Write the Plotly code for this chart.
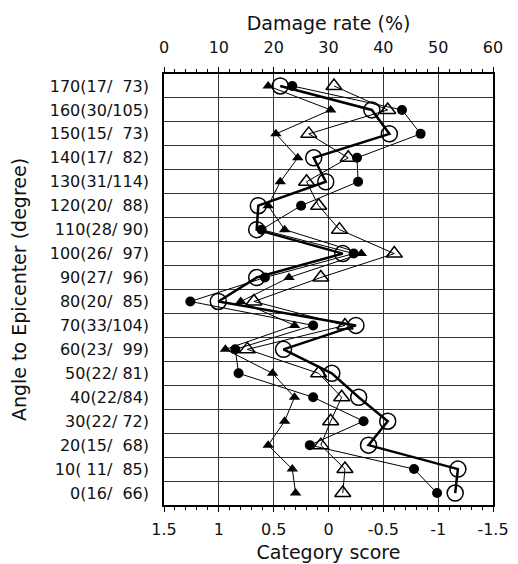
import plotly.graph_objects as go

NB = "\u00a0"
angles = [170, 160, 150, 140, 130, 120, 110, 100, 90, 80, 70, 60, 50, 40, 30, 20, 10, 0]
labels = [
    "170(17/" + NB*2 + "73)", "160(30/105)", "150(15/" + NB*2 + "73)", "140(17/" + NB*2 + "82)",
    "130(31/114)", "120(20/" + NB*2 + "88)", "110(28/" + NB + "90)", "100(26/" + NB*2 + "97)",
    "90(27/" + NB*2 + "96)", "80(20/" + NB*2 + "85)", "70(33/104)", "60(23/" + NB*2 + "99)",
    "50(22/" + NB + "81)", "40(22/84)", "30(22/" + NB + "72)", "20(15/" + NB*2 + "68)",
    "10(" + NB + "11/" + NB*2 + "85)", "0(16/" + NB*2 + "66)",
]

# Damage rate (%) - open circles, thick line (top axis)
damage_rate = [21.2, 37.9, 41.1, 27.3, 29.5, 17.2, 16.9, 32.6, 16.9, 9.9,
               35.0, 21.8, 30.6, 35.5, 40.8, 37.3, 53.6, 53.1]
# Category scores (bottom axis)
score_filled_circle = [0.33, -0.67, -0.84, -0.26, -0.27, 0.25, 0.61, -0.23, 0.58, 1.26,
                       0.14, 0.85, 0.82, 0.14, -0.32, 0.17, -0.78, -0.99]
score_filled_tri = [0.55, -0.02, 0.48, 0.28, 0.44, 0.55, 0.40, -0.30, 0.36, 0.80,
                    0.31, 0.94, 0.51, 0.31, 0.40, 0.55, 0.33, 0.30]
score_open_tri = [-0.05, -0.54, 0.18, -0.18, 0.20, 0.09, -0.10, -0.60, 0.07, 0.68,
                  -0.15, 0.74, 0.09, -0.12, -0.02, 0.07, -0.15, -0.13]

FONT = "DejaVu Sans, sans-serif"
fig = go.Figure()

fig.add_trace(go.Scatter(
    x=score_filled_tri, y=angles, mode="lines+markers", xaxis="x", yaxis="y",
    line=dict(color="black", width=1),
    marker=dict(symbol="triangle-up", size=10, color="black"), showlegend=False))
fig.add_trace(go.Scatter(
    x=score_open_tri, y=angles, mode="lines+markers", xaxis="x", yaxis="y",
    line=dict(color="black", width=1),
    marker=dict(symbol="triangle-up-open", size=14, color="black", line=dict(width=1.5)),
    showlegend=False))
fig.add_trace(go.Scatter(
    x=score_filled_circle, y=angles, mode="lines+markers", xaxis="x", yaxis="y",
    line=dict(color="black", width=1),
    marker=dict(symbol="circle", size=10, color="black"), showlegend=False))
fig.add_trace(go.Scatter(
    x=damage_rate, y=angles, mode="lines+markers", xaxis="x2", yaxis="y",
    line=dict(color="black", width=2.5),
    marker=dict(symbol="circle-open", size=16, color="black", line=dict(width=1.5)),
    showlegend=False))

grid_col = "#333333"
fig.update_layout(
    width=518, height=564,
    margin=dict(l=164, r=25, t=74, b=59),
    paper_bgcolor="white", plot_bgcolor="white",
    font=dict(family=FONT, size=16, color="#111111"),
    xaxis=dict(
        range=[1.5, -1.5], tickvals=[1.5, 1, 0.5, 0, -0.5, -1, -1.5],
        ticktext=["1.5", "1", "0.5", "0", "-0.5", "-1", "-1.5"],
        ticks="outside", ticklen=5, tickcolor="black", tickwidth=1,
        ticklabelstandoff=4, automargin=False,
        minor=dict(dtick=0.1, ticks="outside", ticklen=3, tickcolor="black", showgrid=False),
        showline=True, linecolor="black", linewidth=1.5,
        showgrid=True, gridcolor=grid_col, gridwidth=1, zeroline=False,
        title=dict(text="Category score", standoff=8),
    ),
    xaxis2=dict(
        range=[0, 60], dtick=10, side="top", overlaying="x",
        ticks="outside", ticklen=5, tickcolor="black", tickwidth=1,
        ticklabelstandoff=8, automargin=False,
        minor=dict(dtick=2, ticks="outside", ticklen=3, tickcolor="black", showgrid=False),
        showline=True, linecolor="black", linewidth=1.5,
        showgrid=False, zeroline=False,
        title=dict(text="Damage rate (%)", standoff=2),
    ),
    yaxis=dict(
        range=[-5, 175], tickvals=angles, ticktext=labels,
        ticks="", ticklabelstandoff=10, showgrid=False, zeroline=False, automargin=False,
        minor=dict(tickvals=[a + 5 for a in angles[1:]], showgrid=True,
                   gridcolor=grid_col, gridwidth=1, ticks=""),
        showline=True, mirror=True, linecolor="black", linewidth=1.5,
        title=dict(text="Angle to Epicenter (degree)", standoff=18),
    ),
)

fig.write_html("out.html")
